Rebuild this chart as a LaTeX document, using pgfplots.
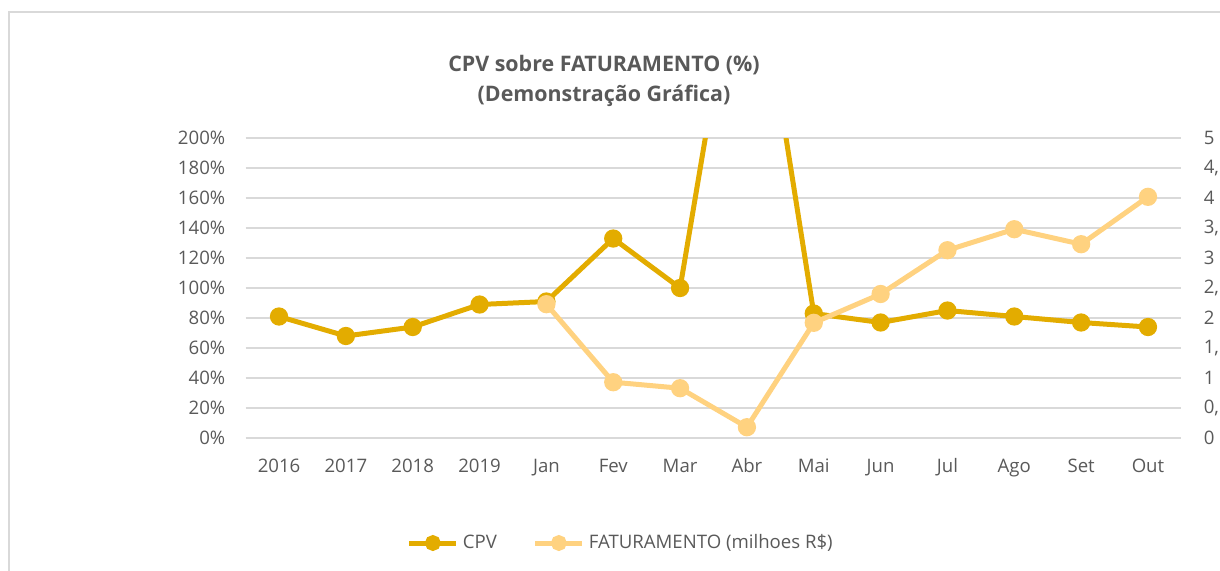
\documentclass[border=0pt]{standalone}
\usepackage{pgfplots}
\pgfplotsset{compat=1.18}
\usepackage{fontspec}
\setmainfont{Open Sans}
\definecolor{cpv}{HTML}{E3AC00}
\definecolor{fat}{HTML}{FFD280}
\definecolor{gridc}{HTML}{D9D9D9}
\definecolor{txt}{HTML}{595959}
\pgfplotsset{base/.style={scale only axis, width=467.9pt, height=150pt,
  at={(122.8pt,66pt)}, anchor=south west, xmin=-0.5, xmax=13.5,
  font=\fontsize{9.3}{11}\selectfont, tick label style={txt},
  major tick length=0pt, /pgf/number format/assume math mode=true,
  axis line style={draw=none}}}
\begin{document}
\begin{tikzpicture}
\useasboundingbox (0,0) rectangle (610pt,285pt);
\clip (0,0) rectangle (610pt,285pt);
\draw[gridc, line width=0.6pt] (4.5pt,-5pt) -- (4.5pt,279pt) -- (620pt,279pt);
\node[txt, font=\fontsize{10.7}{15}\selectfont\bfseries, align=center] at (302pt,244.5pt) {CPV sobre FATURAMENTO (\%)\\(Demonstração Gráfica)};
\begin{axis}[base,
  ymin=0, ymax=200, ytick={0,20,...,200},
  yticklabel={\pgfmathprintnumber{\tick}\%},
  ymajorgrids, grid style={gridc, line width=0.6pt},
  xtick={0,...,13},
  xticklabels={2016,2017,2018,2019,Jan,Fev,Mar,Abr,Mai,Jun,Jul,Ago,Set,Out},
  yticklabel style={anchor=east, inner sep=0pt, xshift=-10pt},
  xticklabel style={anchor=base, inner sep=0pt, yshift=-17.25pt},
  legend style={at={(0.402,-0.35)}, anchor=center, draw=none, fill=none,
    legend columns=2, /tikz/every even column/.append style={column sep=16pt},
    font=\fontsize{9.3}{11}\selectfont, text=txt, inner sep=0pt},
  legend cell align=left,
  legend image code/.code={\draw[mark repeat=2, mark phase=2, #1, mark size=2.7pt] plot coordinates {(0pt,0pt) (11.75pt,0pt) (23.5pt,0pt)};},
]
\addplot[cpv, line width=2.5pt, mark=*, mark size=3.3pt, mark options={draw=none, fill=cpv}] coordinates {
(0,81) (1,68) (2,74) (3,89) (4,91) (5,133) (6,100) (7,365) (8,83) (9,77) (10,85) (11,81) (12,77) (13,74)};
\addlegendentry{CPV}
\addlegendimage{fat, line width=2.5pt, mark=*, mark size=3.3pt, mark options={draw=none, fill=fat}}
\addlegendentry{FATURAMENTO (milhoes R\$)}
\end{axis}
\begin{axis}[base,
  ymin=0, ymax=5, ytick={0,0.5,...,5},
  /pgf/number format/use comma,
  axis x line=none, axis y line*=right,
  yticklabel style={anchor=west, inner sep=0pt, xshift=11pt},
]
\addplot[fat, line width=2.5pt, mark=*, mark size=3.3pt, mark options={draw=none, fill=fat}] coordinates {
(4,2.23) (5,0.93) (6,0.83) (7,0.18) (8,1.92) (9,2.4) (10,3.13) (11,3.48) (12,3.23) (13,4.02)};
\end{axis}
\end{tikzpicture}
\end{document}
